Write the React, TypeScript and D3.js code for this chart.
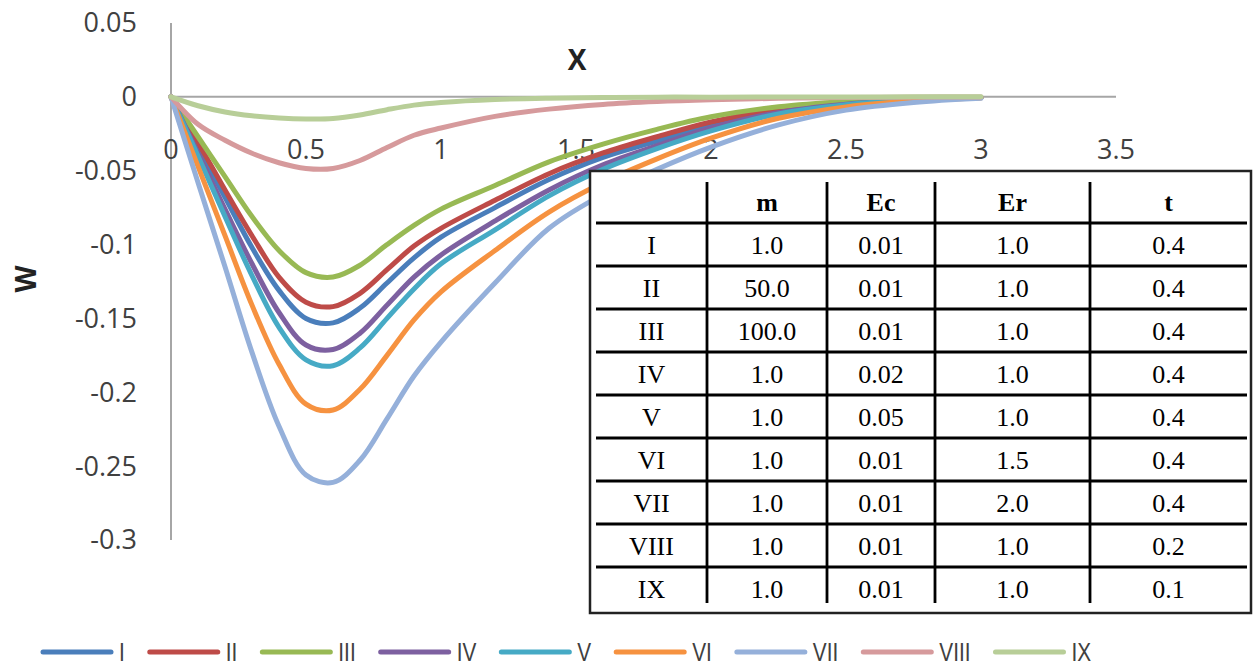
import React from "react";
import * as d3 from "d3";

const xValues = [0, 0.1, 0.2, 0.3, 0.4, 0.5, 0.6, 0.7, 0.8, 0.9, 1.0, 1.2, 1.4, 1.6, 1.8, 2.0, 2.25, 2.5, 2.75, 3.0];

const seriesNames = ["I", "II", "III", "IV", "V", "VI", "VII", "VIII", "IX"];
const seriesColors = ["#4A7EBB", "#BE4B48", "#98B954", "#7D60A0", "#46AAC5", "#F69240", "#95B0DA", "#D69A9C", "#B8CE98"];

const wI = [0, -0.034, -0.068, -0.102, -0.131, -0.150, -0.153, -0.143, -0.126, -0.109, -0.095, -0.075, -0.056, -0.041, -0.030, -0.019, -0.009, -0.0045, -0.0018, -0.0005];
const wII = [0, -0.031, -0.063, -0.094, -0.122, -0.139, -0.142, -0.133, -0.117, -0.101, -0.089, -0.070, -0.052, -0.038, -0.027, -0.017, -0.0085, -0.004, -0.0016, -0.0004];
const wIII = [0, -0.027, -0.054, -0.081, -0.104, -0.119, -0.122, -0.114, -0.100, -0.087, -0.076, -0.060, -0.044, -0.032, -0.022, -0.0135, -0.0067, -0.0031, -0.0012, -0.0004];
const wIV = [0, -0.038, -0.076, -0.113, -0.146, -0.168, -0.171, -0.160, -0.141, -0.122, -0.107, -0.084, -0.063, -0.046, -0.033, -0.021, -0.0105, -0.005, -0.002, -0.0005];
const wV = [0, -0.040, -0.081, -0.121, -0.156, -0.178, -0.182, -0.170, -0.150, -0.130, -0.113, -0.090, -0.067, -0.049, -0.035, -0.023, -0.0115, -0.0053, -0.002, -0.0005];
const wVI = [0, -0.047, -0.094, -0.141, -0.181, -0.208, -0.212, -0.198, -0.175, -0.151, -0.132, -0.104, -0.078, -0.058, -0.042, -0.028, -0.0145, -0.0068, -0.0027, -0.0007];
const wVII = [0, -0.058, -0.115, -0.173, -0.223, -0.256, -0.261, -0.246, -0.218, -0.189, -0.166, -0.126, -0.089, -0.066, -0.049, -0.034, -0.019, -0.009, -0.0038, -0.001];
const wVIII = [0, -0.0186, -0.0294, -0.0382, -0.0446, -0.0485, -0.0485, -0.0431, -0.0343, -0.026, -0.0211, -0.0132, -0.0083, -0.0051, -0.0032, -0.002, -0.001, -0.0005, -0.0002, -0.0001];
const wIX = [0, -0.006, -0.0102, -0.0128, -0.0143, -0.015, -0.0147, -0.0123, -0.0087, -0.0056, -0.0038, -0.0018, -0.0009, -0.0005, -0.0002, -0.0002, -0.0001, -0.0001, 0, 0];

const seriesValues = [wI, wII, wIII, wIV, wV, wVI, wVII, wVIII, wIX];

const xTicks = [0, 0.5, 1, 1.5, 2, 2.5, 3, 3.5];
const yTicks = [0.05, 0, -0.05, -0.1, -0.15, -0.2, -0.25, -0.3];

// parameter table
const tableHeader = ["", "m", "Ec", "Er", "t"];
const tableM = ["1.0", "50.0", "100.0", "1.0", "1.0", "1.0", "1.0", "1.0", "1.0"];
const tableEc = ["0.01", "0.01", "0.01", "0.02", "0.05", "0.01", "0.01", "0.01", "0.01"];
const tableEr = ["1.0", "1.0", "1.0", "1.0", "1.0", "1.5", "2.0", "1.0", "1.0"];
const tableT = ["0.4", "0.4", "0.4", "0.4", "0.4", "0.4", "0.4", "0.2", "0.1"];

const WIDTH = 1253;
const HEIGHT = 670;
const TICK_FONT = "'Open Sans', 'Liberation Sans', sans-serif";
const SERIF = "'Liberation Serif', 'Times New Roman', serif";

const fmt = (d: number) => (d === 0 ? "0" : String(+d.toFixed(2)));

const App = () => {
  const xScale = d3.scaleLinear().domain([0, 3.5]).range([171, 1116]);
  const yScale = d3.scaleLinear().domain([0.05, -0.3]).range([23, 540]);

  const lineBuilder = d3
    .line<number>()
    .x((_, i) => xScale(xValues[i]))
    .y((d) => yScale(d))
    .curve(d3.curveCatmullRom.alpha(0.5));

  // table geometry
  const tbl = { left: 590, right: 1251, top: 171, bottom: 613 };
  const colEdges = [596, 707, 827, 935, 1090, 1247];
  const headerTop = 182;
  const rowScale = d3.scaleLinear().domain([0, 1]).range([223, 266]);
  const rowLineEnd = 603;
  const rows = seriesNames.map((n, i) => [n, tableM[i], tableEc[i], tableEr[i], tableT[i]]);

  // legend layout: measure labels and place them one after another
  const canvas = document.createElement("canvas");
  const ctx = canvas.getContext("2d");
  const legendFont = "26px 'Liberation Sans', sans-serif";
  const squeeze = 0.8;
  if (ctx) ctx.font = legendFont;
  const lineLen = 68;
  const legendGap = 25;
  let cursor = 43;
  const legendItems = seriesNames.map((name, i) => {
    const w = (ctx ? ctx.measureText(name).width : 14 * name.length) * squeeze;
    const item = { name, color: seriesColors[i], x: cursor, textX: cursor + lineLen + 8 };
    cursor += lineLen + 8 + w + legendGap;
    return item;
  });
  const legendY = 652;

  return (
    <svg
      width={WIDTH}
      height={HEIGHT}
      style={{ position: "absolute", left: 0, top: 0, background: "#fff" }}
    >
      <rect width={WIDTH} height={HEIGHT} fill="#fff" />

      {/* axes */}
      <line x1={xScale(0)} x2={xScale(3.5)} y1={yScale(0)} y2={yScale(0)} stroke="#A6A6A6" strokeWidth={2} />
      <line x1={xScale(0)} x2={xScale(0)} y1={yScale(0.05)} y2={yScale(-0.3)} stroke="#A6A6A6" strokeWidth={2} />

      {yTicks.map((t) => (
        <text
          key={"y" + t}
          x={137}
          y={yScale(t)}
          dy="0.35em"
          textAnchor="end"
          fontFamily={TICK_FONT}
          fontSize={27}
          fill="#404040"
        >
          {fmt(t)}
        </text>
      ))}
      {xTicks.map((t) => (
        <text
          key={"x" + t}
          x={xScale(t)}
          y={150}
          dy="0.35em"
          textAnchor="middle"
          fontFamily={TICK_FONT}
          fontSize={27}
          fill="#404040"
        >
          {fmt(t)}
        </text>
      ))}

      <text x={577} y={60} dy="0.35em" textAnchor="middle" fontFamily={TICK_FONT} fontSize={28} fontWeight="bold" fill="#222">
        X
      </text>
      <text
        transform="translate(26,279) rotate(-90)"
        dy="0.35em"
        textAnchor="middle"
        fontFamily={TICK_FONT}
        fontSize={28}
        fontWeight="bold"
        fill="#222"
      >
        W
      </text>

      {/* curves */}
      {seriesValues.map((vals, i) => (
        <path
          key={seriesNames[i]}
          d={lineBuilder(vals) || ""}
          fill="none"
          stroke={seriesColors[i]}
          strokeWidth={5}
          strokeLinejoin="round"
          strokeLinecap="round"
        />
      ))}

      {/* parameter table */}
      <rect
        x={tbl.left}
        y={tbl.top}
        width={tbl.right - tbl.left}
        height={tbl.bottom - tbl.top}
        fill="#fff"
        stroke="#222"
        strokeWidth={2.5}
      />
      {colEdges.slice(1, -1).map((x) => (
        <line key={"c" + x} x1={x} x2={x} y1={headerTop} y2={rowLineEnd} stroke="#000" strokeWidth={2.8} />
      ))}
      {d3.range(0, 9).map((i) => (
        <line
          key={"r" + i}
          x1={colEdges[0]}
          x2={colEdges[colEdges.length - 1]}
          y1={rowScale(i)}
          y2={rowScale(i)}
          stroke="#000"
          strokeWidth={2.8}
        />
      ))}
      {tableHeader.map((h, j) => (
        <text
          key={"h" + j}
          x={(colEdges[j] + colEdges[j + 1]) / 2}
          y={(headerTop + rowScale(0)) / 2 - 1}
          dy="0.35em"
          textAnchor="middle"
          fontFamily={SERIF}
          fontSize={26}
          fontWeight="bold"
          fill="#000"
        >
          {h}
        </text>
      ))}
      {rows.map((r, i) =>
        r.map((cell, j) => (
          <text
            key={"t" + i + "-" + j}
            x={(colEdges[j] + colEdges[j + 1]) / 2}
            y={(rowScale(i) + rowScale(i + 1)) / 2}
            dy="0.35em"
            textAnchor="middle"
            fontFamily={SERIF}
            fontSize={26}
            fill="#000"
          >
            {cell}
          </text>
        ))
      )}

      {/* legend */}
      {legendItems.map((it) => (
        <g key={"l" + it.name}>
          <line
            x1={it.x}
            x2={it.x + lineLen}
            y1={legendY}
            y2={legendY}
            stroke={it.color}
            strokeWidth={5}
            strokeLinecap="round"
          />
          <text
            transform={`translate(${it.textX},${legendY}) scale(${squeeze},1)`}
            dy="0.36em"
            fontFamily="'Liberation Sans', sans-serif"
            fontSize={26}
            fill="#404040"
          >
            {it.name}
          </text>
        </g>
      ))}
    </svg>
  );
};

export default App;
